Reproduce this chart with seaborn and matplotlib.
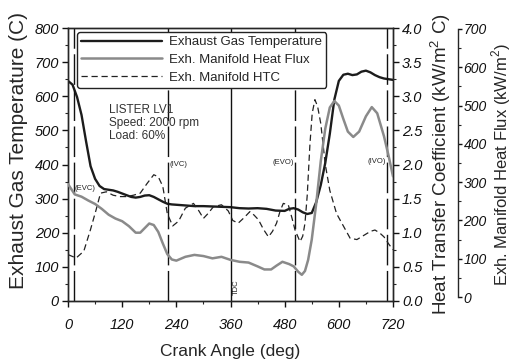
import matplotlib
matplotlib.use("Agg")
import matplotlib.pyplot as plt
from matplotlib.ticker import MultipleLocator, FormatStrFormatter
import seaborn as sns
import pandas as pd

# ---------------- data ----------------
deg_T = [0, 10, 20, 30, 40, 50, 60, 70, 80, 90, 100, 110, 120, 130, 140, 150, 160, 170, 180, 190,
         200, 210, 220, 230, 240, 260, 280, 300, 320, 340, 360, 380, 400, 420, 440, 460, 480, 490,
         500, 510, 520, 530, 540, 550, 560, 570, 580, 590, 600, 610, 620, 630, 640, 650, 660, 670,
         680, 690, 700, 710, 720]
temp = [645, 634, 598, 545, 468, 395, 358, 337, 328, 326, 324, 320, 315, 310, 305, 303, 305, 309, 310, 305,
        298, 291, 285, 283, 282, 280, 278, 278, 277, 276, 275, 272, 271, 272, 270, 265, 264, 270,
        272, 268, 260, 255, 258, 290, 340, 405, 490, 590, 645, 663, 666, 662, 664, 672, 675, 670,
        662, 656, 652, 650, 648]

deg_q = [0, 15, 30, 45, 60, 75, 90, 105, 120, 135, 150, 160, 170, 180, 190, 200, 210, 220, 230, 240,
         260, 280, 300, 320, 340, 360, 380, 400, 420, 435, 450, 462, 475, 490, 500, 510, 518, 525, 532,
         540, 550, 560, 570, 580, 590, 600, 610, 620, 632, 645, 660, 673, 685, 700, 710, 720]
flux = [295, 268, 262, 252, 243, 230, 215, 205, 198, 185, 168, 168, 180, 192, 188, 170, 140, 112, 98, 95,
        105, 110, 107, 101, 105, 97, 92, 90, 80, 72, 72, 82, 92, 86, 80, 66, 58, 68, 97,
        150, 245, 355, 440, 495, 512, 500, 465, 432, 418, 432, 472, 496, 480, 420, 370, 315]

deg_h = [0, 18, 35, 50, 62, 72, 85, 100, 115, 130, 145, 160, 175, 190, 200, 210, 220, 232, 245, 260,
         278, 290, 300, 310, 322, 340, 355, 365, 377, 390, 403, 412, 422, 433, 444, 453, 462, 470, 477,
         488, 496, 503, 514, 520, 525, 530, 536, 541, 547, 553, 560, 570, 580, 595, 610, 625, 640, 655,
         670, 680, 690, 700, 710, 720]
htc = [0.68, 0.63, 0.73, 1.05, 1.33, 1.58, 1.60, 1.55, 1.53, 1.53, 1.55, 1.58, 1.72, 1.85, 1.82, 1.68, 1.28,
       1.10, 1.17, 1.36, 1.43, 1.32, 1.21, 1.28, 1.38, 1.41, 1.32, 1.18, 1.14, 1.22, 1.31, 1.26, 1.19, 1.05,
       0.94, 1.02, 1.14, 1.32, 1.43, 1.41, 1.22, 1.04, 0.87, 0.95, 1.14, 1.55, 2.30, 2.75, 2.95, 2.85, 2.60,
       2.00, 1.62, 1.28, 1.10, 0.92, 0.90, 0.96, 1.02, 1.04, 1.00, 0.94, 0.84, 0.75]

events = ["(EVC)", "(IVC)", "TDC", "(EVO)", "(IVO)"]
event_deg = [13, 222, 360, 502, 707]

series_names = ["Exhaust Gas Temperature", "Exh. Manifold Heat Flux", "Exh. Manifold HTC"]
x_ticks = [0, 120, 240, 360, 480, 600, 720]

# ---------------- style ----------------
sns.set_style("ticks")
plt.rcParams["font.family"] = ["Liberation Sans", "DejaVu Sans"]
plt.rcParams["mathtext.fontset"] = "custom"
plt.rcParams["mathtext.rm"] = "Liberation Sans"
plt.rcParams["axes.linewidth"] = 1.0

fig = plt.figure(figsize=(5.13, 3.62), dpi=100)
ax = fig.add_axes([68 / 513, 1 - 301 / 362, (393 - 68) / 513, (301 - 28) / 362])
ax2 = ax.twinx()
ax3 = ax.twinx()
ax3.spines["right"].set_position(("axes", 1.2))

df_T = pd.DataFrame({"deg": deg_T, "val": temp})
df_q = pd.DataFrame({"deg": deg_q, "val": flux})
df_h = pd.DataFrame({"deg": deg_h, "val": htc})

sns.lineplot(data=df_T, x="deg", y="val", ax=ax, color="#1c1c1c", linewidth=1.7,
             label=series_names[0], legend=False)
sns.lineplot(data=df_q, x="deg", y="val", ax=ax3, color="#8a8a8a", linewidth=1.8,
             label=series_names[1], legend=False)
sns.lineplot(data=df_h, x="deg", y="val", ax=ax2, color="#222222", linewidth=0.9,
             linestyle=(0, (5, 3)), label=series_names[2], legend=False)

# event lines
for name, d in zip(events, event_deg):
    if name == "TDC":
        ax.axvline(d, color="#111111", linewidth=1.0)
    else:
        ax.axvline(d, color="#111111", linewidth=1.0, linestyle=(0, (22, 4)))

small = dict(fontsize=5.5, color="#222222")
ax.text(15, 330, events[0], ha="left", va="center", **small)
ax.text(224, 400, events[1], ha="left", va="center", **small)
ax.text(364, 18, events[2], ha="left", va="bottom", rotation=90, **small)
ax.text(454, 405, events[3], ha="left", va="center", **small)
ax.text(664, 408, events[4], ha="left", va="center", **small)

ax.text(90, 577, "LISTER LV1\nSpeed: 2000 rpm\nLoad: 60%", fontsize=8.5, color="#333333",
        ha="left", va="top", linespacing=1.1)

# axes ranges / ticks
ax.set_xlim(0, 720)
ax.set_ylim(0, 800)
ax2.set_ylim(0, 4.0)

ax.set_xticks(x_ticks)
ax.xaxis.set_minor_locator(MultipleLocator(60))
ax.yaxis.set_major_locator(MultipleLocator(100))
ax.yaxis.set_minor_locator(MultipleLocator(50))
ax2.yaxis.set_major_locator(MultipleLocator(0.5))
ax2.yaxis.set_minor_locator(MultipleLocator(0.25))
ax2.yaxis.set_major_formatter(FormatStrFormatter("%.1f"))
ax3.set_yticks([0, 100, 200, 300, 400, 500, 600, 700])
ax3.yaxis.set_minor_locator(MultipleLocator(50))
ax3.set_ylim(-10.4, 702.6)
ax3.spines["right"].set_bounds(0, 700)

for a in (ax, ax2, ax3):
    a.tick_params(which="major", direction="out", length=4, width=1.0, labelsize=10.5,
                  colors="#111111", pad=2.5)
    a.tick_params(which="minor", direction="out", length=2.5, width=0.8)
    for lab in a.get_xticklabels() + a.get_yticklabels():
        lab.set_fontstyle("italic")
ax.tick_params(axis="x", which="major", pad=8)
ax3.tick_params(axis="y", which="major", length=3, pad=1.0, labelsize=10)
ax3.tick_params(axis="y", which="minor", length=2)

ax.set_xlabel("Crank Angle (deg)", fontsize=12.5, labelpad=9)
ax.set_ylabel("Exhaust Gas Temperature (C)", fontsize=15)
ax2.set_ylabel("Heat Transfer Coefficient (kW/m$^2$ C)", fontsize=13.5)
ax3.set_ylabel("Exh. Manifold Heat Flux (kW/m$^2$)", fontsize=12)
ax.yaxis.set_label_coords((28 - 68) / 325, 0.55)
ax2.yaxis.set_label_coords((428 - 68) / 325, 0.50)
ax3.yaxis.set_label_coords((489 - 68) / 325, 0.50)

ax.spines["top"].set_visible(True)
ax2.spines["top"].set_visible(True)
ax3.spines["top"].set_visible(False)
ax3.spines["left"].set_visible(False)
ax3.spines["bottom"].set_visible(False)

# legend
handles = ax.get_lines()[:1] + ax3.get_lines()[:1] + ax2.get_lines()[:1]
leg = ax2.legend(handles, series_names, loc="upper left", bbox_to_anchor=(0.028, 0.985),
                 fontsize=9.5, handlelength=6.1, handletextpad=0.6, labelspacing=0.42,
                 frameon=True, fancybox=True, borderpad=0.3, borderaxespad=0.0)
leg.get_frame().set_edgecolor("#222222")
leg.get_frame().set_linewidth(1.0)
leg.get_frame().set_alpha(1.0)

fig.savefig("out.png", dpi=100)
